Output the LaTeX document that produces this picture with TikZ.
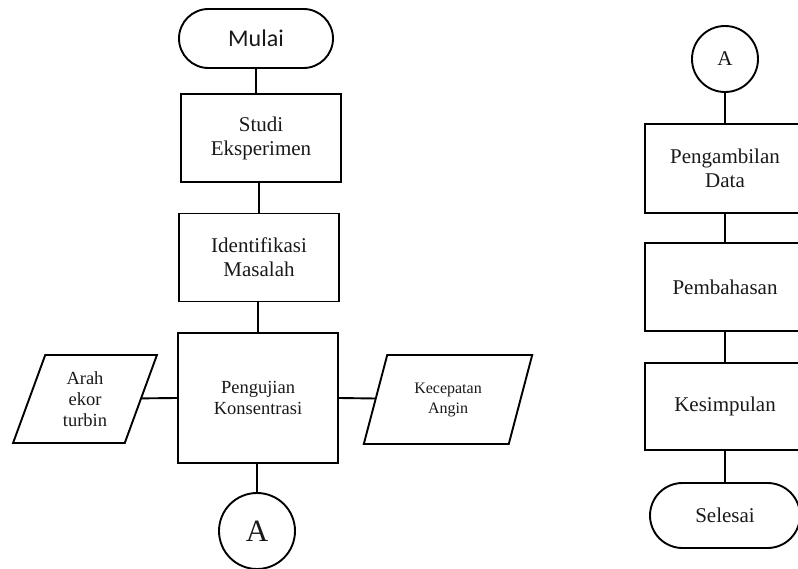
\documentclass[tikz,border=0pt]{standalone}
\usepackage{fontspec}
\setmainfont{Liberation Serif}
\newfontfamily\calib{Carlito}
\usetikzlibrary{shapes.geometric,shapes.misc}
\begin{document}
\begin{tikzpicture}[x=1pt,y=-1pt,
  every node/.style={text=black!90, align=center, line width=1.9pt},
  proc/.style={draw, rectangle, minimum width=160pt, minimum height=88pt, inner sep=0pt, font=\fontsize{21}{24}\selectfont},
  term/.style={draw, rounded rectangle, inner sep=0pt},
  conn/.style={draw, circle, inner sep=0pt},
  io/.style={draw, trapezium, trapezium stretches=true, inner sep=0pt},
  line/.style={draw, line width=1.9pt}]
\useasboundingbox (0,0) rectangle (798,569);
% left column
\node[term, minimum width=154pt, minimum height=59pt, font=\calib\fontsize{24}{26}\selectfont] (mulai) at (256,38.5) {Mulai};
\node[proc] (studi) at (261,138) {Studi\\Eksperimen};
\node[proc] (ident) at (259,257.5) {Identifikasi\\Masalah};
\node[proc, minimum height=130pt, font=\fontsize{18.5}{21}\selectfont] (peng) at (258,398) {Pengujian\\Konsentrasi};
\node[io, trapezium left angle=72, trapezium right angle=108, minimum width=144pt, minimum height=88pt, font=\fontsize{18.5}{21}\selectfont] (arah) at (85,399) {Arah\\ekor\\turbin};
\node[io, trapezium left angle=69, trapezium right angle=111, minimum width=170pt, minimum height=89pt, font=\fontsize{16}{20}\selectfont] (kec) at (448,399.5) {Kecepatan\\Angin};
\node[conn, minimum size=76pt, font=\fontsize{31}{31}\selectfont] (a1) at (257,531) {A};
% right column
\node[conn, minimum size=66pt, font=\fontsize{21}{21}\selectfont] (a2) at (725,59) {A};
\node[proc, minimum height=89pt] (ambil) at (725,168.5) {Pengambilan\\Data};
\node[proc] (bahas) at (725,287) {Pembahasan};
\node[proc, minimum height=87pt] (simpul) at (725,406.5) {Kesimpulan};
\node[term, minimum width=150pt, minimum height=65pt, font=\fontsize{21}{23}\selectfont] (selesai) at (725,515.5) {Selesai};
% connectors
\path[line] (mulai.south) -- (mulai.south |- studi.north);
\path[line] (studi.south -| ident.north) -- (ident.north);
\path[line] (ident.south -| peng.north) -- (peng.north);
\path[line] (peng.south -| a1.north) -- (a1.north);
\path[line] (peng.west) -- (arah);
\path[line] (peng.east) -- (kec);
\path[line] (a2.south) -- (ambil.north);
\path[line] (ambil.south) -- (bahas.north);
\path[line] (bahas.south) -- (simpul.north);
\path[line] (simpul.south) -- (selesai.north);
\end{tikzpicture}
\end{document}
